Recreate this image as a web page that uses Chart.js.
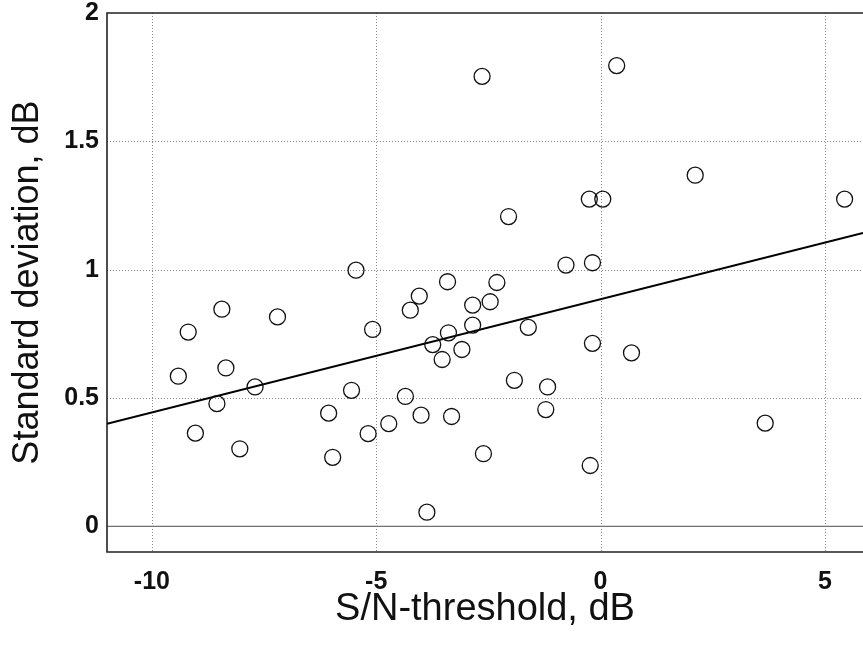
<!DOCTYPE html>
<html>
<head>
<meta charset="utf-8">
<script src="https://cdn.jsdelivr.net/npm/chart.js@4.4.1/dist/chart.umd.min.js"></script>
<style>
  html, body { margin: 0; padding: 0; background: #fff; overflow: hidden; }
  #wrap { width: 863px; height: 650px; }
</style>
</head>
<body>
<div id="wrap"><canvas id="chart" width="863" height="650"></canvas></div>
<script>
// ── DATA ──

// S/N-threshold (dB) of each measured point
const snThreshold = [
  -9.41, -9.19, -9.03, -8.44, -8.55, -8.35, -8.04, -7.70, -7.20,
  -6.06, -5.97, -5.55, -5.45, -5.18, -5.08, -4.72, -4.35, -4.24,
  -4.04, -4.00, -3.87, -3.74, -3.53, -3.41, -3.39, -3.32, -3.09,
  -2.85, -2.85, -2.64, -2.61, -2.46, -2.31, -2.05, -1.92, -1.61,
  -1.22, -1.18, -0.77, -0.25, 0.05, -0.23, -0.18, -0.18, 0.36,
  0.69, 2.11, 3.67, 5.44
];

// standard deviation (dB) of each point, same order
const stdDev = [
  0.585, 0.757, 0.363, 0.846, 0.478, 0.617, 0.302, 0.543, 0.816,
  0.441, 0.269, 0.530, 0.998, 0.361, 0.767, 0.400, 0.506, 0.842,
  0.897, 0.433, 0.055, 0.708, 0.650, 0.953, 0.754, 0.428, 0.689,
  0.862, 0.784, 1.753, 0.283, 0.875, 0.950, 1.207, 0.569, 0.775,
  0.455, 0.543, 1.018, 1.275, 1.275, 0.237, 1.027, 0.713, 1.795,
  0.676, 1.368, 0.402, 1.275
];

// regression line, read at the two plot edges
const fitX = [-11, 5.85];
const fitY = [0.40, 1.143];

const xTicks = [-10, -5, 0, 5];
const yTicks = [0, 0.5, 1, 1.5, 2];

// ── FRAME + GRID ──

const frame = {
  id: 'frame',
  beforeDatasetsDraw(chart) {
    const { ctx, chartArea: a, scales: { x, y } } = chart;
    ctx.save();

    // dotted grid
    ctx.strokeStyle = '#8a8a8a';
    ctx.lineWidth = 1;
    ctx.setLineDash([1, 2]);
    xTicks.forEach(v => {
      const px = Math.round(x.getPixelForValue(v)) + 0.5;
      ctx.beginPath(); ctx.moveTo(px, a.top); ctx.lineTo(px, a.bottom); ctx.stroke();
    });
    yTicks.filter(v => v > 0 && v < 2).forEach(v => {
      const py = Math.round(y.getPixelForValue(v)) + 0.5;
      ctx.beginPath(); ctx.moveTo(a.left, py); ctx.lineTo(a.right, py); ctx.stroke();
    });

    // zero line
    ctx.setLineDash([]);
    ctx.strokeStyle = '#707070';
    ctx.lineWidth = 1.2;
    const y0 = y.getPixelForValue(0);
    ctx.beginPath(); ctx.moveTo(a.left, y0); ctx.lineTo(a.right, y0); ctx.stroke();

    // frame: left, top, bottom (right edge is cut off)
    ctx.strokeStyle = '#222';
    ctx.lineWidth = 1.6;
    ctx.beginPath();
    ctx.moveTo(a.right, a.top);
    ctx.lineTo(a.left, a.top);
    ctx.lineTo(a.left, a.bottom);
    ctx.lineTo(a.right, a.bottom);
    ctx.stroke();
    ctx.restore();
  }
};

// ── CHART ──

const tickFont = { family: '"Liberation Sans", Arial, sans-serif', size: 25, weight: 'bold', lineHeight: 1 };
const titleFont = { family: '"Liberation Sans", Arial, sans-serif', size: 36, lineHeight: 1 };

new Chart(document.getElementById('chart'), {
  type: 'scatter',
  data: {
    datasets: [
      {
        label: 'fit',
        type: 'line',
        data: fitX.map((v, i) => ({ x: v, y: fitY[i] })),
        borderColor: '#000',
        borderWidth: 2,
        pointRadius: 0,
        fill: false,
        order: 2,
      },
      {
        label: 'measurements',
        data: snThreshold.map((v, i) => ({ x: v, y: stdDev[i] })),
        pointStyle: 'circle',
        pointRadius: 8,
        pointBorderWidth: 1.3,
        borderColor: '#111',
        backgroundColor: 'rgba(0,0,0,0)',
        order: 1,
      },
    ]
  },
  options: {
    responsive: false,
    animation: false,
    devicePixelRatio: 1,
    layout: { autoPadding: false, padding: { top: 13, right: 0, left: 0, bottom: 0 } },
    plugins: { legend: { display: false }, tooltip: { enabled: false } },
    scales: {
      x: {
        type: 'linear',
        min: -11,
        max: 5.85,
        afterBuildTicks: s => { s.ticks = xTicks.map(v => ({ value: v })); },
        afterFit: s => { s.height = 98; s.paddingLeft = 0; s.paddingRight = 0; },
        grid: { display: false },
        border: { display: false },
        ticks: { font: tickFont, color: '#111', padding: 10, callback: v => String(v) },
        title: { display: true, text: 'S/N-threshold, dB', font: { ...titleFont, size: 38 }, color: '#111', padding: { top: 0, bottom: 21 } },
      },
      y: {
        type: 'linear',
        min: -0.1,
        max: 2,
        afterBuildTicks: s => { s.ticks = yTicks.map(v => ({ value: v })); },
        afterFit: s => { s.width = 107; s.paddingTop = 0; s.paddingBottom = 0; },
        grid: { display: false },
        border: { display: false },
        ticks: { font: tickFont, color: '#111', padding: 0, callback: v => String(v) },
        title: { display: true, text: 'Standard deviation, dB', font: titleFont, color: '#111', padding: { top: 10, bottom: 0 } },
      }
    }
  },
  plugins: [frame]
});
</script>
</body>
</html>
